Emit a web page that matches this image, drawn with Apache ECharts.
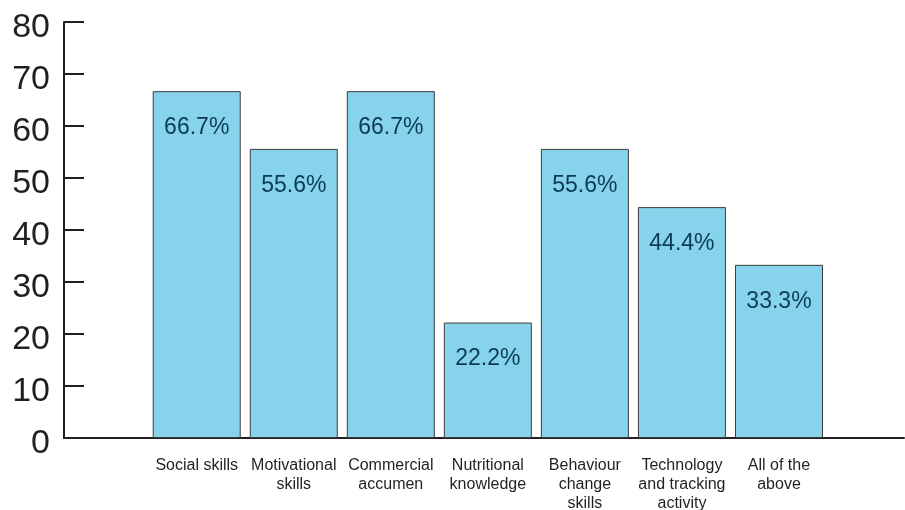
<!DOCTYPE html>
<html>
<head>
<meta charset="utf-8">
<script src="https://cdn.jsdelivr.net/npm/echarts@6/dist/echarts.min.js"></script>
<style>
  html, body { margin: 0; padding: 0; background: #fff; }
  #chart { width: 905px; height: 510px; }
</style>
</head>
<body>
<div id="chart"></div>
<script>
// Skills categories and share of respondents (%)
const categories = [
  'Social skills',
  'Motivational\nskills',
  'Commercial\naccumen',
  'Nutritional\nknowledge',
  'Behaviour\nchange\nskills',
  'Technology\nand tracking\nactivity',
  'All of the\nabove'
];
const values = [66.7, 55.6, 66.7, 22.2, 55.6, 44.4, 33.3];
const yMin = 0;
const yMax = 80;
const yStep = 10;

const ink = '#231f20';
const chart = echarts.init(document.getElementById('chart'), null, { renderer: 'canvas' });

chart.setOption({
  animation: false,
  backgroundColor: '#ffffff',
  grid: [
    // frame: vertical scale and the long baseline
    { left: 64, right: 1, top: 22, bottom: 72, containLabel: false, outerBoundsMode: 'none' },
    // bars
    { left: 148.2, right: 77.5, top: 22, bottom: 72, containLabel: false, outerBoundsMode: 'none' }
  ],
  xAxis: [
    {
      gridIndex: 0, type: 'value', min: 0, max: 1,
      axisLine: { show: true, lineStyle: { color: ink, width: 2 } },
      axisTick: { show: false }, axisLabel: { show: false }, splitLine: { show: false }
    },
    {
      gridIndex: 1, type: 'category', data: categories,
      axisLine: { show: false }, axisTick: { show: false }, splitLine: { show: false },
      axisLabel: {
        interval: 0, margin: 18, color: ink,
        fontFamily: 'Liberation Sans, Arial, sans-serif', fontSize: 16, lineHeight: 19
      }
    }
  ],
  yAxis: [
    {
      gridIndex: 0, type: 'value', min: yMin, max: yMax, interval: yStep,
      axisLine: { show: true, lineStyle: { color: ink, width: 2 } },
      axisTick: { show: true, inside: true, length: 20, lineStyle: { color: ink, width: 2 } },
      splitLine: { show: false },
      axisLabel: {
        margin: 14, color: ink,
        formatter: '{v|{value}}',
        rich: {
          v: {
            color: ink, padding: [12, 0, 0, 0],
            fontFamily: 'Liberation Sans, Arial, sans-serif', fontSize: 34
          }
        }
      }
    },
    {
      gridIndex: 1, type: 'value', min: yMin, max: yMax, interval: yStep, show: false
    }
  ],
  series: [{
    type: 'bar',
    xAxisIndex: 1, yAxisIndex: 1,
    data: values,
    barCategoryGap: '9.3%',
    itemStyle: { color: '#87d3eb', borderColor: '#3c3c3c', borderWidth: 1 },
    label: {
      show: true, position: 'insideTop', distance: 25,
      formatter: '{c}%', color: '#0c3a5b',
      fontFamily: 'Liberation Sans, Arial, sans-serif', fontSize: 23
    }
  }]
});
</script>
</body>
</html>
